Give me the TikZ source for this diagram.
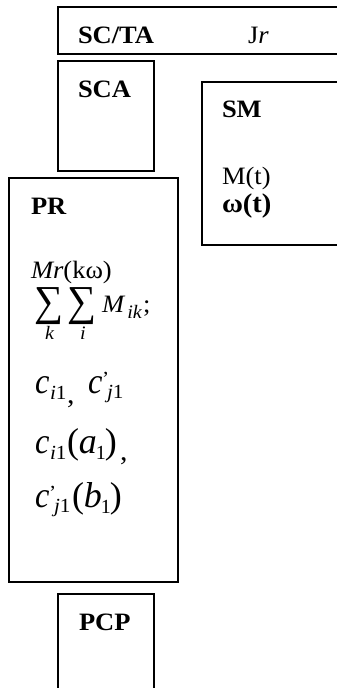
\documentclass[tikz,border=0pt]{standalone}
\usepackage{fontspec}
\usepackage{graphicx}
\setmainfont[FakeStretch=1.06]{Liberation Serif}
\newfontfamily\cfam[FakeStretch=0.9]{Liberation Serif}
\newfontfamily\pfam{Liberation Serif}
\newcommand{\lbl}{\fontsize{25}{28}\selectfont}
\newcommand{\cfont}{\cfam\fontsize{36}{38}\selectfont}
\newcommand{\pfont}{\pfam\fontsize{36}{38}\selectfont}
\newcommand{\sfont}{\fontsize{20}{22}\selectfont}
\newcommand{\tfont}{\fontsize{19}{22}\selectfont}
\begin{document}
\begin{tikzpicture}[x=1pt,y=-1pt,
  box/.style={draw, line width=2pt, inner sep=0pt, outer sep=0pt, anchor=north west},
  txt/.style={inner sep=0pt, outer sep=0pt, anchor=base west}]
\useasboundingbox (0,0) rectangle (337,688);
\clip (0,0) rectangle (337,688);
% boxes
\node[box, minimum width=290pt, minimum height=47pt] (scta) at (58,7) {};
\node[box, minimum width=96pt, minimum height=110pt] (sca) at (58,61) {};
\node[box, minimum width=145pt, minimum height=163pt] (sm) at (202,82) {};
\node[box, minimum width=169pt, minimum height=404pt] (pr) at (9,178) {};
\node[box, minimum width=96pt, minimum height=110pt] (pcp) at (58,594) {};
% labels
\node[txt] (tscta) at (78,43) {\lbl\bfseries SC/TA};
\node[txt] (tjr) at (248,43) {\lbl J\textit{r}};
\node[txt] (tsca) at (78,97) {\lbl\bfseries SCA};
\node[txt] (tsm) at (222,117) {\lbl\bfseries SM};
\node[txt] (tmt) at (222,184) {\lbl M(t)};
\node[txt] (tom) at (222,212) {\fontsize{27}{28}\selectfont\bfseries ω(t)};
\node[txt] (tpr) at (31,214) {\lbl\bfseries PR};
\node[txt] (tmr) at (31,278) {\lbl\textit{Mr}(kω)};
% sums
\node[inner sep=0pt] (sig1) at (49.5,306) {\resizebox*{29pt}{37pt}{\lbl ∑}};
\node[inner sep=0pt] (sig2) at (82.5,306) {\resizebox*{29pt}{37pt}{\lbl ∑}};
\node[txt] (sk) at (45,339) {\tfont\textit{k}};
\node[txt] (si) at (80,339) {\tfont\textit{i}};
\node[txt] (smik) at (102,312) {\lbl\textit{M}\raisebox{-6pt}{\tfont\kern2pt\textit{ik}}\kern1pt;};
% c lines
\node[txt] (c1) at (35,393) {\cfont\textit{c}};
\node[txt] (c1s) at (50,399) {\sfont\textit{i}1};
\node[txt] (cm1) at (67,403) {\fontsize{28}{30}\selectfont ,};
\node[txt] (c2) at (88,393) {\cfont\textit{c}};
\node[txt] (c2p) at (102,385) {\sfont ’};
\node[txt] (c2s) at (107,398) {\sfont\textit{j}1};
\node[txt] (c3) at (35,453) {\cfont\textit{c}};
\node[txt] (c3s) at (50,459) {\sfont\textit{i}1};
\node[txt] (c3a) at (67,453) {\pfont(\textit{a}\kern-1pt\raisebox{-6pt}{\sfont 1}\kern-1pt)};
\node[txt] (cm2) at (120,460) {\fontsize{28}{30}\selectfont ,};
\node[txt] (c4) at (35,507) {\cfont\textit{c}};
\node[txt] (c4p) at (49,499) {\sfont ’};
\node[txt] (c4s) at (54,512) {\sfont\textit{j}1};
\node[txt] (c4b) at (72,507) {\pfont(\textit{b}\kern-1pt\raisebox{-6pt}{\sfont 1}\kern-1pt)};
\node[txt] (tpcp) at (79,630) {\lbl\bfseries PCP};
\end{tikzpicture}
\end{document}
